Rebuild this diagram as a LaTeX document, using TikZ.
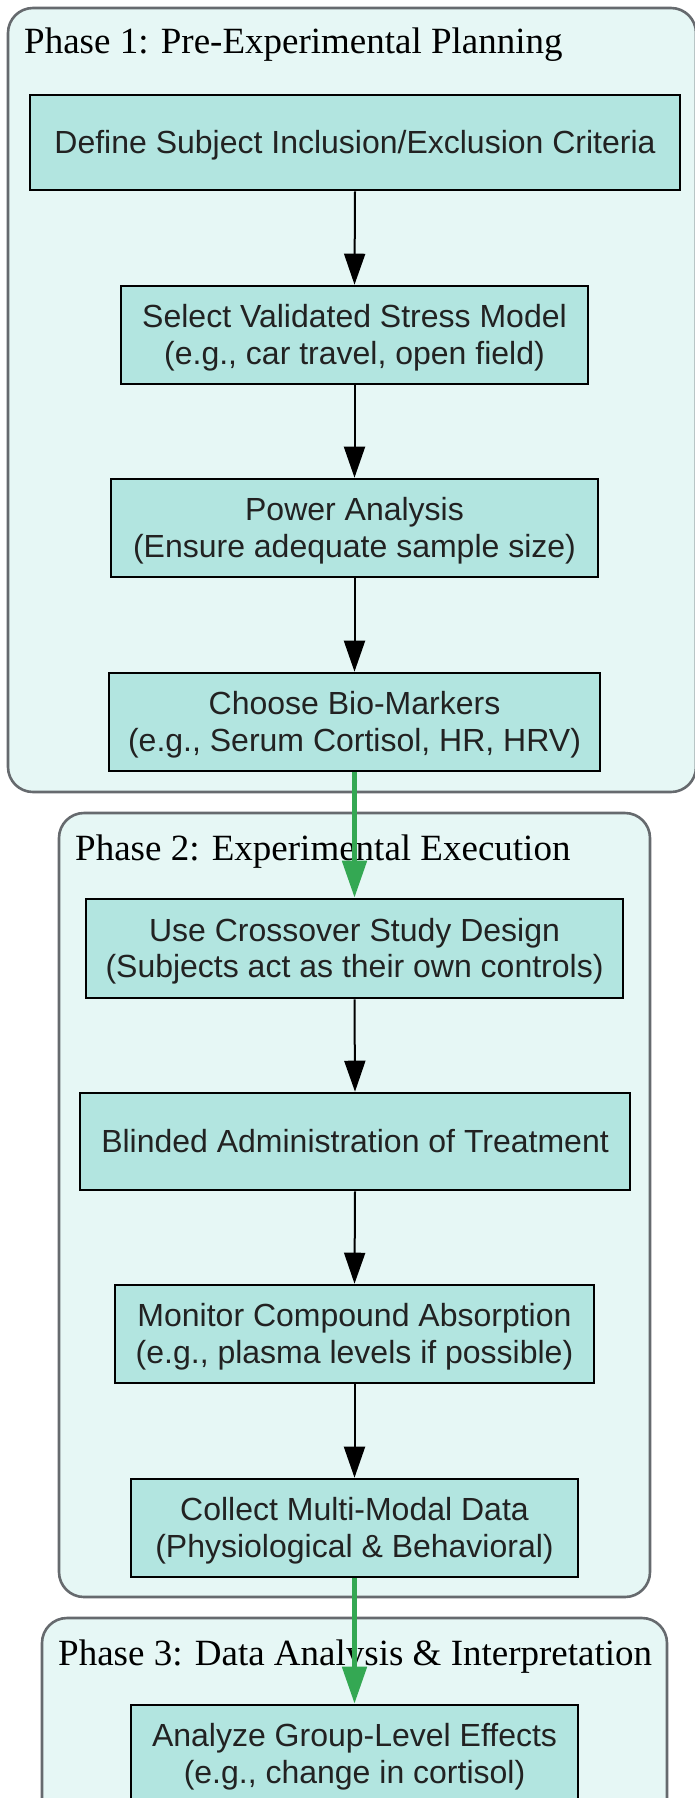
\documentclass[tikz,border=0pt]{standalone}
\usepackage{fontspec}
\setmainfont{Liberation Serif}
\newfontfamily\nodefont{Liberation Sans}
\usetikzlibrary{arrows.meta}
\definecolor{boxfill}{HTML}{B2E5E0}
\definecolor{clusterfill}{HTML}{E6F7F5}
\definecolor{clusterdraw}{HTML}{666A6E}
\definecolor{flowgreen}{HTML}{34A853}
\definecolor{textdark}{HTML}{222222}
% one line of node text: cap height above, nothing below the baseline
\newcommand\capline[1]{\smash{#1}\rule{0pt}{22pt}}
\tikzset{
  stepbox/.style={draw=black, line width=2.6pt, fill=boxfill, text=textdark,
    font=\nodefont\fontsize{32}{36.6}\selectfont, align=center, inner sep=0pt},
  phase/.style={draw=clusterdraw, line width=2.6pt, fill=clusterfill, rounded corners=25pt},
  phaselabel/.style={anchor=base west, inner sep=0pt, font=\fontsize{37}{40}\selectfont, text=black},
  flow/.style={draw=black, line width=2pt, -{Triangle[length=31pt,width=21pt]}},
  gflow/.style={draw=flowgreen, line width=5pt, -{Triangle[length=37pt,width=24pt]}}
}
\begin{document}
\begin{tikzpicture}[x=1pt,y=-1pt]
\useasboundingbox (0,0) rectangle (694,1798);
% clusters
\path[phase] (8,8) rectangle (696,792);
\path[phase] (59,813) rectangle (650,1597);
\path[phase] (42,1618) rectangle (667,1900);
\node[phaselabel] (l1) at (24,53.3) {Phase 1: Pre-Experimental Planning};
\node[phaselabel] (l2) at (75,860) {Phase 2: Experimental Execution};
\node[phaselabel] (l3) at (58,1665) {Phase 3: Data Analysis \& Interpretation};
% nodes
\node[stepbox, minimum width=650pt, minimum height=95pt] (b1) at (355,142.5) {\capline{Define Subject Inclusion/Exclusion Criteria}};
\node[stepbox, minimum width=467pt, minimum height=98pt] (b2) at (354.5,335) {\capline{Select Validated Stress Model}\\\capline{(e.g., car travel, open field)}};
\node[stepbox, minimum width=487pt, minimum height=98pt] (b3) at (354.5,528) {\capline{Power Analysis}\\\capline{(Ensure adequate sample size)}};
\node[stepbox, minimum width=491pt, minimum height=98pt] (b4) at (354.5,722) {\capline{Choose Bio-Markers}\\\capline{(e.g., Serum Cortisol, HR, HRV)}};
\node[stepbox, minimum width=537pt, minimum height=99pt] (b5) at (354.5,948.5) {\capline{Use Crossover Study Design}\\\capline{(Subjects act as their own controls)}};
\node[stepbox, minimum width=550pt, minimum height=97pt] (b6) at (355,1141.5) {\capline{Blinded Administration of Treatment}};
\node[stepbox, minimum width=479pt, minimum height=98pt] (b7) at (354.5,1334) {\capline{Monitor Compound Absorption}\\\capline{(e.g., plasma levels if possible)}};
\node[stepbox, minimum width=447pt, minimum height=98pt] (b8) at (354.5,1528) {\capline{Collect Multi-Modal Data}\\\capline{(Physiological \& Behavioral)}};
\node[stepbox, minimum width=447pt, minimum height=98pt] (b9) at (354.5,1754) {\capline{Analyze Group-Level Effects}\\\capline{(e.g., change in cortisol)}};
% connectors
\draw[flow] (b1.south) -- (b2.north);
\draw[flow] (b2.south) -- (b3.north);
\draw[flow] (b3.south) -- (b4.north);
\draw[gflow] (b4.south) -- (b5.north);
\draw[flow] (b5.south) -- (b6.north);
\draw[flow] (b6.south) -- (b7.north);
\draw[flow] (b7.south) -- (b8.north);
\draw[gflow] (b8.south) -- (b9.north);
\end{tikzpicture}
\end{document}
